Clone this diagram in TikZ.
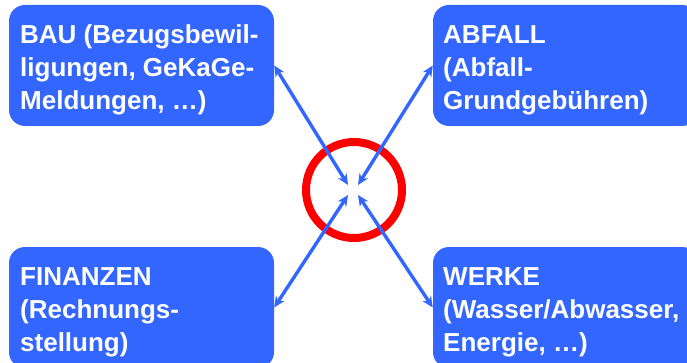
\documentclass[tikz,border=0pt]{standalone}
\usepackage{fontspec}
\setmainfont{Liberation Sans}
\usetikzlibrary{arrows.meta}
\definecolor{boxblue}{RGB}{51,102,255}
\definecolor{ringred}{RGB}{255,0,0}
\tikzset{
  area/.style={fill=boxblue, rounded corners=16pt, minimum width=265pt, minimum height=121pt, inner sep=0pt, draw=none},
  label/.style={anchor=base west, inner sep=0pt, align=left, text=white, font=\fontsize{26}{33}\selectfont\bfseries},
  link/.style={draw=boxblue, line width=3.4pt, {Stealth[length=11pt,width=10pt]}-{Stealth[length=11pt,width=10pt]}},
}
\begin{document}
\begin{tikzpicture}[x=1pt,y=-1pt]
\useasboundingbox (0,0) rectangle (687,363);
\clip (0,0) rectangle (687,363);
\node[area] (bau) at (141.5,65.5) {};
\node[area] (abfall) at (565.5,65.5) {};
\node[area] (fin) at (141.5,307.5) {};
\node[area] (werke) at (565.5,307.5) {};
\node[label] (tbau) at (20,110) {BAU (Bezugsbewil-\\ligungen, GeKaGe-\\Meldungen, …)};
\node[label] (tabfall) at (443,110) {ABFALL\\(Abfall-\\Grundgebühren)};
\node[label] (tfin) at (20,351) {FINANZEN\\(Rechnungs-\\stellung)};
\node[label] (twerke) at (443,351) {WERKE\\(Wasser/Abwasser,\\Energie, …)};
\node[draw=ringred, line width=8pt, circle, minimum size=96pt, inner sep=0pt] (ring) at (354,190) {};
\coordinate (c1) at (348,185);
\coordinate (c2) at (358,185);
\coordinate (c3) at (348,195);
\coordinate (c4) at (358,195);
\draw[link] (bau.east) -- (c1);
\draw[link] (abfall.west) -- (c2);
\draw[link] (fin.east) -- (c3);
\draw[link] (werke.west) -- (c4);
\end{tikzpicture}
\end{document}
